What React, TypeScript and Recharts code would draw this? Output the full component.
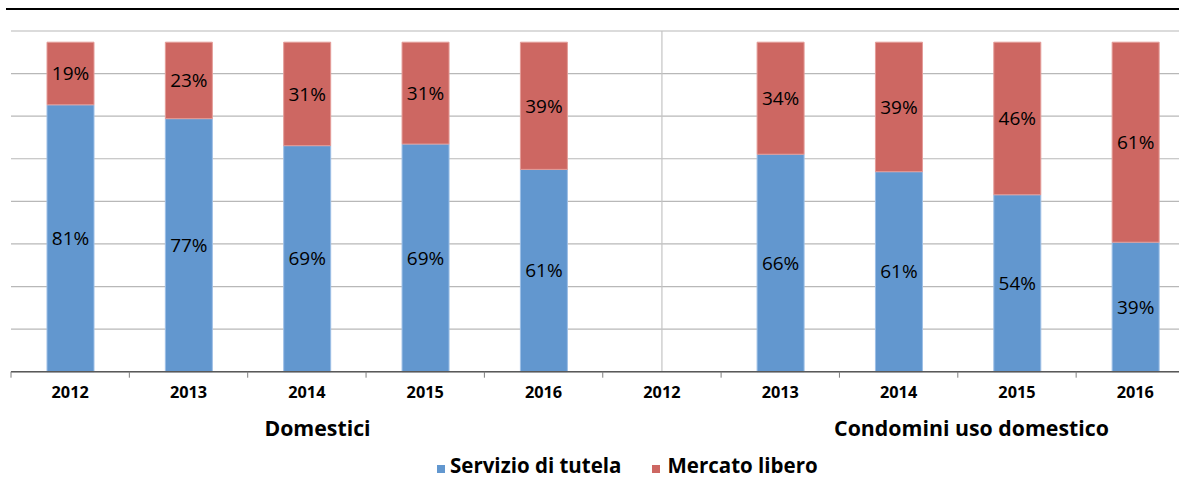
import React from "react";
import { BarChart, Bar, XAxis, YAxis, CartesianGrid, LabelList, ReferenceLine } from "recharts";

const years = ["2012", "2013", "2014", "2015", "2016", "2012", "2013", "2014", "2015", "2016"];
const groups = ["Domestici", "Domestici", "Domestici", "Domestici", "Domestici",
  "Condomini uso domestico", "Condomini uso domestico", "Condomini uso domestico", "Condomini uso domestico", "Condomini uso domestico"];
const servizioTutela = [81.0, 76.8, 68.6, 69.1, 61.4, null, 66.0, 60.7, 53.7, 39.3];
const mercatoLibero = [19.0, 23.2, 31.4, 30.9, 38.6, null, 34.0, 39.3, 46.3, 60.7];
const yTicks = [0, 12.925, 25.85, 38.775, 51.7, 64.625, 77.55, 90.475, 103.4];

const data = years.map((year, i) => ({
  key: `${groups[i]}-${year}`,
  year,
  tutela: servizioTutela[i],
  libero: mercatoLibero[i],
}));

const FONT = "'Open Sans', sans-serif";
const BLUE = "#6297CF";
const RED = "#CD6762";

const pct = (v: any) => (v == null ? "" : `${Math.round(Number(v))}%`);

const YearTick = (props: any) => {
  const { x, y, payload, index } = props;
  const half = payload.offset || 0;
  return (
    <g>
      <line x1={x - half} x2={x - half} y1={y} y2={y + 6} stroke="#7f7f7f" strokeWidth={1} />
      {index === data.length - 1 && (
        <line x1={x + half} x2={x + half} y1={y} y2={y + 6} stroke="#7f7f7f" strokeWidth={1} />
      )}
      <text x={x} y={y + 20} textAnchor="middle" dominantBaseline="central"
        fontFamily={FONT} fontWeight={700} fontSize={16.3} fill="#000">
        {data[index] ? data[index].year : payload.value}
      </text>
    </g>
  );
};

export default function App() {
  return (
    <div style={{ position: "absolute", left: 0, top: 0, width: 1179, height: 478, overflow: "hidden", background: "#fff", fontFamily: FONT }}>
      <div style={{ position: "absolute", left: 6, top: 7.5, width: 1200, height: 2.5, background: "#000" }} />
      <BarChart width={1196} height={478} data={data} barSize={47}
        margin={{ top: 31, right: 1.5, bottom: 76.3, left: 11 }}>
        <CartesianGrid vertical={false} stroke="#b8b8b8" strokeWidth={1.2} />
        <YAxis hide domain={[0, 103.4]} ticks={yTicks} />
        <XAxis dataKey="key" interval={0} height={30} tickSize={0} tickMargin={0}
          axisLine={{ stroke: "#595959", strokeWidth: 1.5 }} tickLine={false} tick={<YearTick />} />
        <ReferenceLine x={data[5].key} stroke="#c4c4c4" strokeWidth={1.2} />
        <Bar dataKey="tutela" stackId="a" fill={BLUE} stroke="#9dbfe6" strokeWidth={1} isAnimationActive={false}>
          <LabelList dataKey="tutela" position="center" formatter={pct} fill="#000" fontSize={19} fontFamily={FONT} />
        </Bar>
        <Bar dataKey="libero" stackId="a" fill={RED} stroke="#e49c98" strokeWidth={1} isAnimationActive={false}>
          <LabelList dataKey="libero" position="center" formatter={pct} fill="#000" fontSize={19} fontFamily={FONT} />
        </Bar>
      </BarChart>
      <div style={{ position: "absolute", left: 317.5, top: 427, transform: "translate(-50%, -50%)", fontWeight: 700, fontSize: 21.3, whiteSpace: "nowrap" }}>
        Domestici
      </div>
      <div style={{ position: "absolute", left: 971.5, top: 427, transform: "translate(-50%, -50%)", fontWeight: 700, fontSize: 21.3, whiteSpace: "nowrap" }}>
        Condomini uso domestico
      </div>
      <div style={{ position: "absolute", left: 437, top: 451, display: "flex", alignItems: "baseline", fontWeight: 700, fontSize: 20.5, whiteSpace: "nowrap" }}>
        <span style={{ display: "inline-block", width: 8, height: 8, background: BLUE, marginRight: 5 }} />
        <span>Servizio di tutela</span>
        <span style={{ display: "inline-block", width: 8, height: 8, background: RED, marginLeft: 31, marginRight: 7 }} />
        <span>Mercato libero</span>
      </div>
    </div>
  );
}
